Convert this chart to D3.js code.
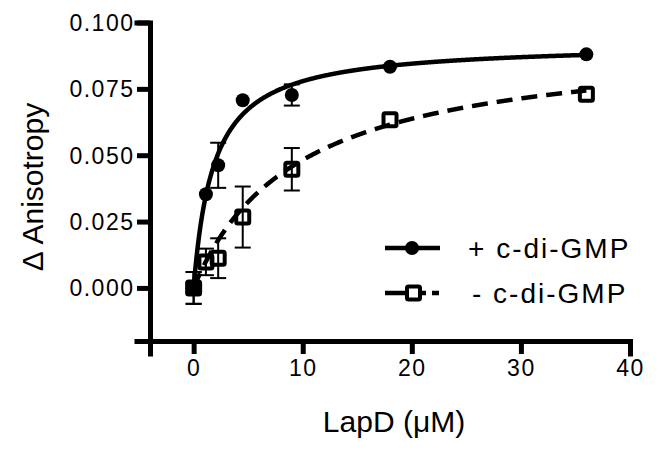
<!DOCTYPE html>
<html>
<head>
<meta charset="utf-8">
<script src="https://cdn.jsdelivr.net/npm/d3@7"></script>
<style>
html,body{margin:0;padding:0;background:#fff;}
svg{display:block;font-family:Arial,"Liberation Sans",Helvetica,sans-serif;}
</style>
</head>
<body>
<svg id="chart" width="671" height="454"></svg>
<script>
// ---- data ----
const concentrations = [0, 1.125, 2.25, 4.5, 9, 18, 36];
const plusValues  = [0.000, 0.0353, 0.0462, 0.0707, 0.0727, 0.0833, 0.0880];
const plusErrors  = [0.006, 0.000, 0.0085, 0.000, 0.0040, 0.000, 0.000];
const minusValues = [0.000, 0.0098, 0.0112, 0.0267, 0.0447, 0.0634, 0.0730];
const minusErrors = [0.006, 0.005, 0.0075, 0.0115, 0.0080, 0.000, 0.000];
// one-site binding fit parameters (Bmax, Kd)
const plusFit  = {bmax: 0.0923, kd: 1.85};
const minusFit = {bmax: 0.0940, kd: 9.5};
const xTicks = [0, 10, 20, 30, 40];
const yTicks = [0.000, 0.025, 0.050, 0.075, 0.100];
const legendLabels = ["+ c-di-GMP", "- c-di-GMP"];

// ---- layout ----
const svg = d3.select("#chart");
const x = d3.scaleLinear().domain([-4, 40]).range([150, 630]);
const y = d3.scaleLinear().domain([-0.02, 0.1]).range([341, 22.5]);

// axes
const xAxis = d3.axisBottom(x).tickValues(xTicks).tickFormat(d3.format("d")).tickSizeOuter(0).tickSize(13).tickPadding(6);
const yAxis = d3.axisLeft(y).tickValues(yTicks).tickFormat(d3.format(".3f")).tickSizeOuter(0).tickSize(13).tickPadding(4);

const gx = svg.append("g").attr("transform", `translate(0,${y(-0.02)})`).call(xAxis);
const gy = svg.append("g").attr("transform", `translate(${x(-4)},0)`).call(yAxis);
[gx, gy].forEach(g => {
  g.select(".domain").attr("stroke", "#000").attr("stroke-width", 5).attr("stroke-linecap", "square");
  g.selectAll(".tick line").attr("stroke", "#000").attr("stroke-width", 5);
  g.selectAll(".tick text").attr("fill", "#000").style("font-size", "23px")
    .style("letter-spacing", "1.5px").style("font-family", "Arial, 'Liberation Sans', sans-serif");
});
gy.selectAll(".tick text").attr("dy", "0.35em").attr("dx", "1.5");

// axis titles
svg.append("text").attr("x", 394).attr("y", 432).attr("text-anchor", "middle")
  .style("font-size", "30px").attr("fill", "#000").text("LapD (\u03bcM)");
svg.append("text").attr("transform", "translate(43,187) rotate(-90)").attr("text-anchor", "middle")
  .style("font-size", "30px").attr("fill", "#000").text("\u0394 Anisotropy");

// fit curves
const curveXs = d3.range(0, 36.001, 0.05);
const line = d3.line().x(d => x(d[0])).y(d => y(d[1])).curve(d3.curveLinear);
function fitPts(p){ return curveXs.map(c => [c, p.bmax * c / (p.kd + c)]); }

svg.append("path").datum(fitPts(minusFit)).attr("d", line)
  .attr("fill", "none").attr("stroke", "#000").attr("stroke-width", 4.5).attr("stroke-dasharray", "16,9");
svg.append("path").datum(fitPts(plusFit)).attr("d", line)
  .attr("fill", "none").attr("stroke", "#000").attr("stroke-width", 4.5);

// error bars
function errorBars(vals, errs){
  const g = svg.append("g").attr("stroke", "#000").attr("stroke-width", 2);
  concentrations.forEach((c, i) => {
    if (!errs[i]) return;
    const cx = x(c), y1 = y(vals[i] - errs[i]), y2 = y(vals[i] + errs[i]);
    g.append("line").attr("x1", cx).attr("x2", cx).attr("y1", y1).attr("y2", y2);
    g.append("line").attr("x1", cx - 8).attr("x2", cx + 8).attr("y1", y1).attr("y2", y1);
    g.append("line").attr("x1", cx - 8).attr("x2", cx + 8).attr("y1", y2).attr("y2", y2);
  });
}
errorBars(minusValues, minusErrors);
errorBars(plusValues, plusErrors);

// markers
svg.append("g").selectAll("rect").data(concentrations).join("rect")
  .attr("x", (d) => x(d) - 6.5).attr("y", (d, i) => y(minusValues[i]) - 6.5)
  .attr("width", 13).attr("height", 13).attr("rx", 1.5)
  .attr("fill", "none").attr("stroke", "#000").attr("stroke-width", 4);
svg.append("g").selectAll("circle").data(concentrations).join("circle")
  .attr("cx", d => x(d)).attr("cy", (d, i) => y(plusValues[i])).attr("r", 7).attr("fill", "#000");

// legend
const lg = svg.append("g");
const rows = [248, 293];
lg.append("line").attr("x1", 385).attr("x2", 440).attr("y1", rows[0]).attr("y2", rows[0])
  .attr("stroke", "#000").attr("stroke-width", 4.5);
lg.append("circle").attr("cx", 412).attr("cy", rows[0]).attr("r", 7).attr("fill", "#000");
lg.append("line").attr("x1", 385).attr("x2", 440).attr("y1", rows[1]).attr("y2", rows[1])
  .attr("stroke", "#000").attr("stroke-width", 4.5).attr("stroke-dasharray", "24,10,7,6,7,40");
lg.append("rect").attr("x", 407).attr("y", rows[1] - 6.5).attr("width", 13).attr("height", 13).attr("rx", 1.5)
  .attr("fill", "none").attr("stroke", "#000").attr("stroke-width", 4);
legendLabels.forEach((t, i) => {
  lg.append("text").attr("x", i === 0 ? 468 : 472).attr("y", rows[i]).attr("dy", "0.35em")
    .style("font-size", "28px").style("letter-spacing", "2px").attr("fill", "#000").text(t);
});
</script>
</body>
</html>
